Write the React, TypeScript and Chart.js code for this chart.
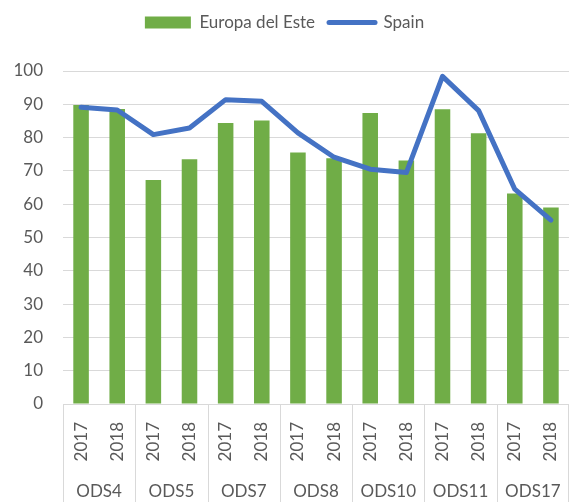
import React, { useEffect, useRef } from "react";
import { Chart, registerables } from "chart.js";

Chart.register(...registerables);

const GROUPS = ["ODS4", "ODS5", "ODS7", "ODS8", "ODS10", "ODS11", "ODS17"];
const YEARS = ["2017", "2018"];
const EUROPA_ESTE = [89.8, 88.6, 67.3, 73.5, 84.4, 85.1, 75.5, 73.8, 87.4, 73.1, 88.5, 81.3, 63.2, 59.0];
const SPAIN = [89.1, 88.3, 80.9, 82.9, 91.4, 90.9, 81.4, 74.1, 70.5, 69.5, 98.4, 88.1, 64.5, 55.2];
const Y_TICKS = [0, 10, 20, 30, 40, 50, 60, 70, 80, 90, 100];

const GREEN = "#70AD47";
const BLUE = "#4472C4";
const TEXT = "#595959";
const GRID = "#D9D9D9";
const FONT = "Lato, 'Open Sans', sans-serif";

const LABELS: string[] = [];
GROUPS.forEach(() => YEARS.forEach((y) => LABELS.push(y)));

const legendMargin = {
  id: "legendMargin",
  beforeInit(chart: any) {
    const orig = chart.legend.fit;
    chart.legend.fit = function fit() {
      orig.bind(chart.legend)();
      this.height += 30;
    };
  },
};

const groupPlugin = {
  id: "groupLabels",
  afterDraw(chart: any) {
    const { ctx, chartArea } = chart;
    const x = chart.scales.x;
    const n = YEARS.length;
    const half = (x.getPixelForValue(1) - x.getPixelForValue(0)) / 2;
    const bottom = chart.height;
    ctx.save();
    ctx.strokeStyle = GRID;
    ctx.lineWidth = 1;
    ctx.fillStyle = TEXT;
    ctx.font = `17px ${FONT}`;
    ctx.textAlign = "center";
    ctx.textBaseline = "middle";
    GROUPS.forEach((g, i) => {
      const left = x.getPixelForValue(i * n) - half;
      const right = x.getPixelForValue(i * n + n - 1) + half;
      const lx = Math.round(left) + 0.5;
      ctx.beginPath();
      ctx.moveTo(lx, chartArea.bottom);
      ctx.lineTo(lx, bottom);
      ctx.stroke();
      if (i === GROUPS.length - 1) {
        const rx = Math.round(right) - 0.5;
        ctx.beginPath();
        ctx.moveTo(rx, chartArea.bottom);
        ctx.lineTo(rx, bottom);
        ctx.stroke();
      }
      ctx.fillText(g, (left + right) / 2, chartArea.bottom + 88);
    });
    ctx.restore();
  },
};

export default function App() {
  const ref = useRef<HTMLCanvasElement>(null);
  useEffect(() => {
    if (!ref.current) return;
    const chart = new Chart(ref.current, {
      type: "bar",
      data: {
        labels: LABELS,
        datasets: [
          {
            type: "bar",
            label: "Europa del Este",
            data: EUROPA_ESTE,
            backgroundColor: GREEN,
            borderWidth: 0,
            barPercentage: 0.43,
            categoryPercentage: 1,
            order: 2,
          },
          {
            type: "line",
            label: "Spain",
            data: SPAIN,
            borderColor: BLUE,
            backgroundColor: BLUE,
            borderWidth: 5,
            pointRadius: 0,
            tension: 0,
            borderCapStyle: "round",
            borderJoinStyle: "round",
            order: 1,
          },
        ] as any,
      },
      options: {
        animation: false,
        responsive: false,
        layout: { padding: { left: 0, right: 0, top: 0, bottom: 0 } },
        plugins: {
          tooltip: { enabled: false },
          legend: {
            position: "top",
            labels: {
              color: TEXT,
              font: { family: FONT, size: 17 },
              usePointStyle: true,
              pointStyleWidth: 46,
              boxHeight: 12,
              padding: 14,
              sort: (a: any, b: any) => a.datasetIndex - b.datasetIndex,
              generateLabels(chart: any) {
                const items = Chart.defaults.plugins.legend.labels.generateLabels(chart);
                return items.map((it: any) => {
                  if (it.datasetIndex === 0) {
                    return { ...it, pointStyle: "rect", lineWidth: 0, fillStyle: GREEN, strokeStyle: GREEN };
                  }
                  return { ...it, pointStyle: "line", lineWidth: 5, strokeStyle: BLUE, fillStyle: BLUE, lineCap: "round" };
                });
              },
            },
          },
        },
        scales: {
          x: {
            grid: { display: false },
            border: { display: true, color: GRID },
            ticks: {
              color: TEXT,
              font: { family: FONT, size: 17 },
              minRotation: 90,
              maxRotation: 90,
              autoSkip: false,
              padding: 10,
            },
            afterFit(scale: any) {
              scale.height = 98;
              scale.paddingLeft = 0;
              scale.paddingRight = 0;
            },
          },
          y: {
            min: 0,
            max: 100,
            afterBuildTicks(scale: any) {
              scale.ticks = Y_TICKS.map((v) => ({ value: v }));
            },
            grid: { color: GRID, drawTicks: false, lineWidth: 1 },
            border: { display: false },
            ticks: {
              color: TEXT,
              font: { family: FONT, size: 17 },
              padding: 20,
            },
            afterFit(scale: any) {
              scale.width = 63;
            },
          },
        },
      } as any,
      plugins: [legendMargin, groupPlugin],
    });
    return () => chart.destroy();
  }, []);
  return (
    <div style={{ position: "absolute", left: 0, top: 0, width: 569, height: 502, background: "#fff" }}>
      <canvas ref={ref} width={569} height={502} style={{ display: "block" }} />
    </div>
  );
}
